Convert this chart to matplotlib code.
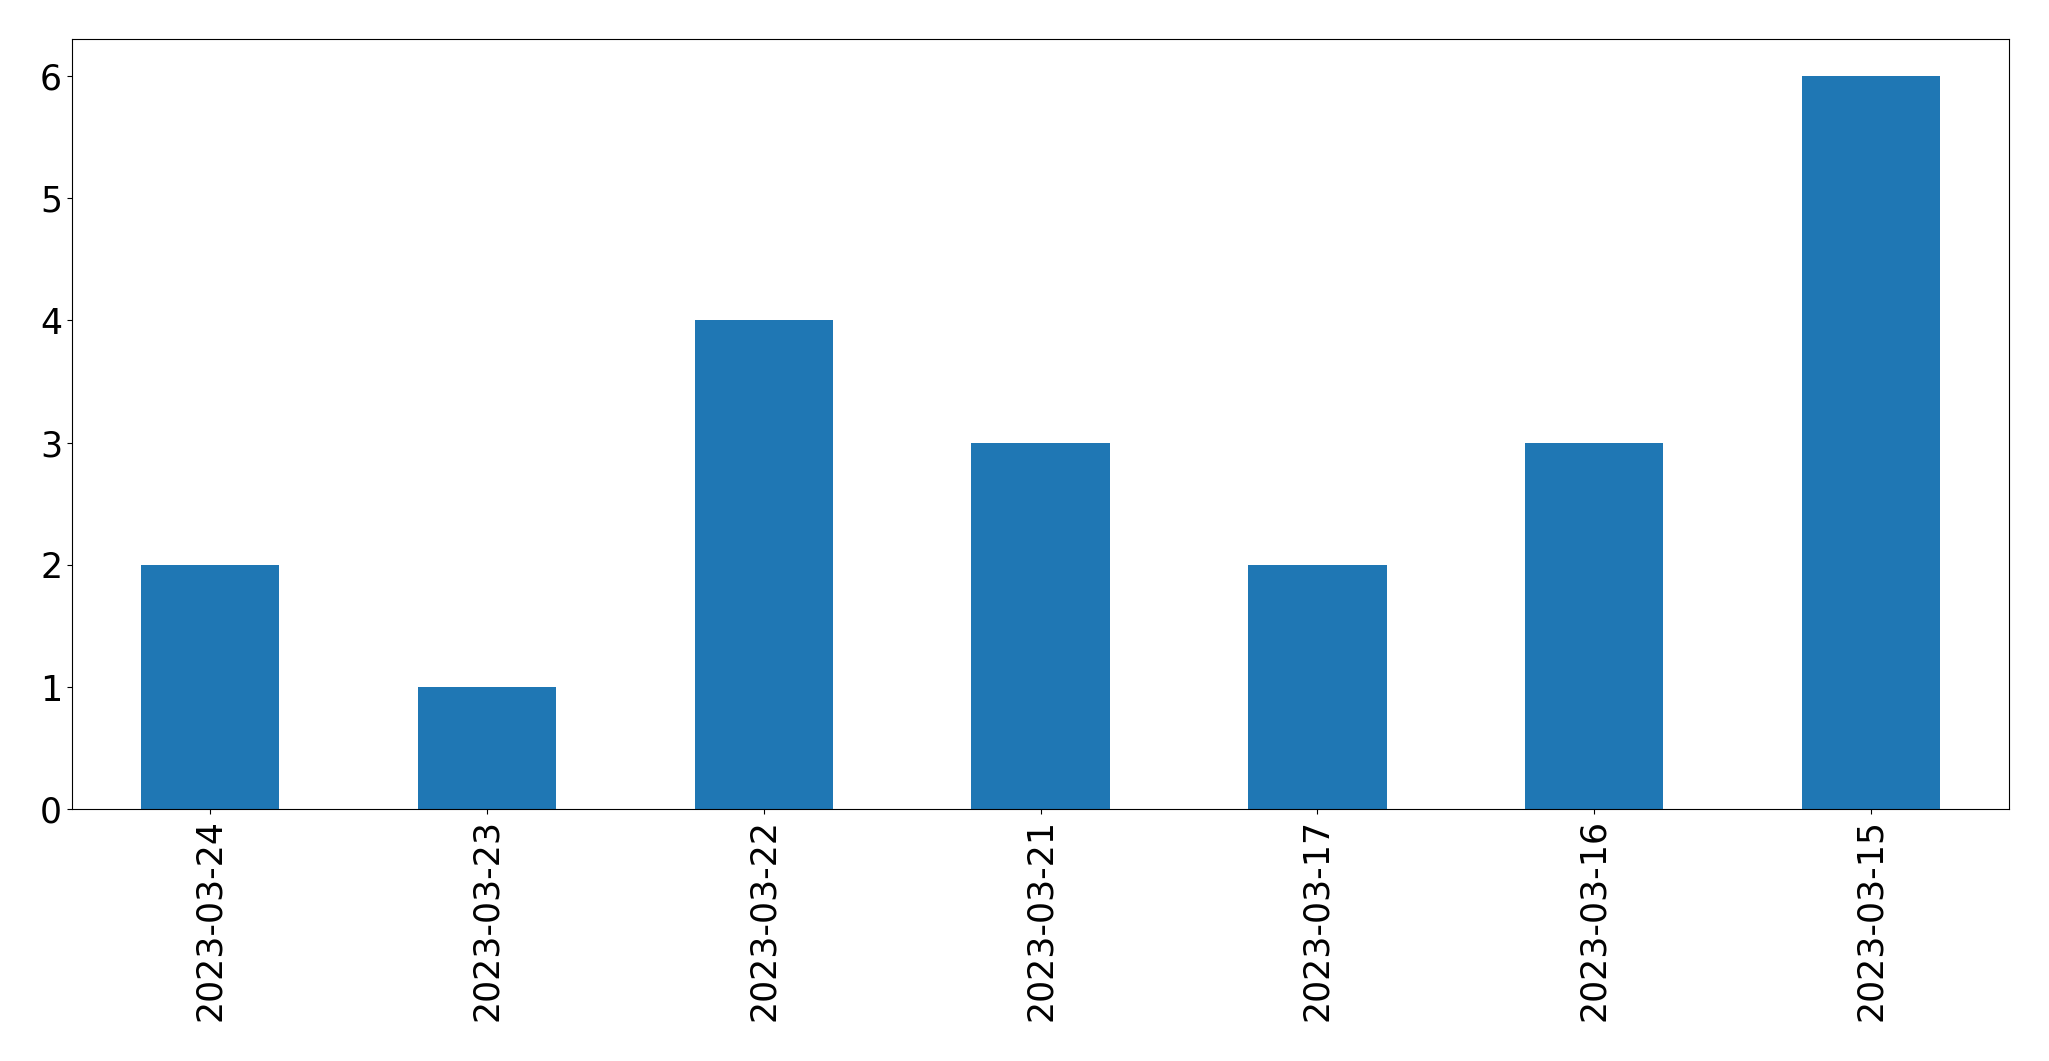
import matplotlib
matplotlib.use('Agg')
import matplotlib.pyplot as plt

dates = ['2023-03-24', '2023-03-23', '2023-03-22', '2023-03-21',
         '2023-03-17', '2023-03-16', '2023-03-15']
counts = [2, 1, 4, 3, 2, 3, 6]

fig, ax = plt.subplots(figsize=(20.49, 10.61), dpi=100)
fig.subplots_adjust(left=0.0351, right=0.9806, top=0.963, bottom=0.2372)

x = list(range(len(dates)))
ax.bar(x, counts, width=0.5, color='#1f77b4')
ax.set_xlim(-0.5, len(dates) - 0.5)
ax.set_xticks(x)
ax.set_xticklabels(dates, rotation=90)
ax.tick_params(labelsize=25)

fig.savefig('out.png', dpi=100)
plt.close(fig)
